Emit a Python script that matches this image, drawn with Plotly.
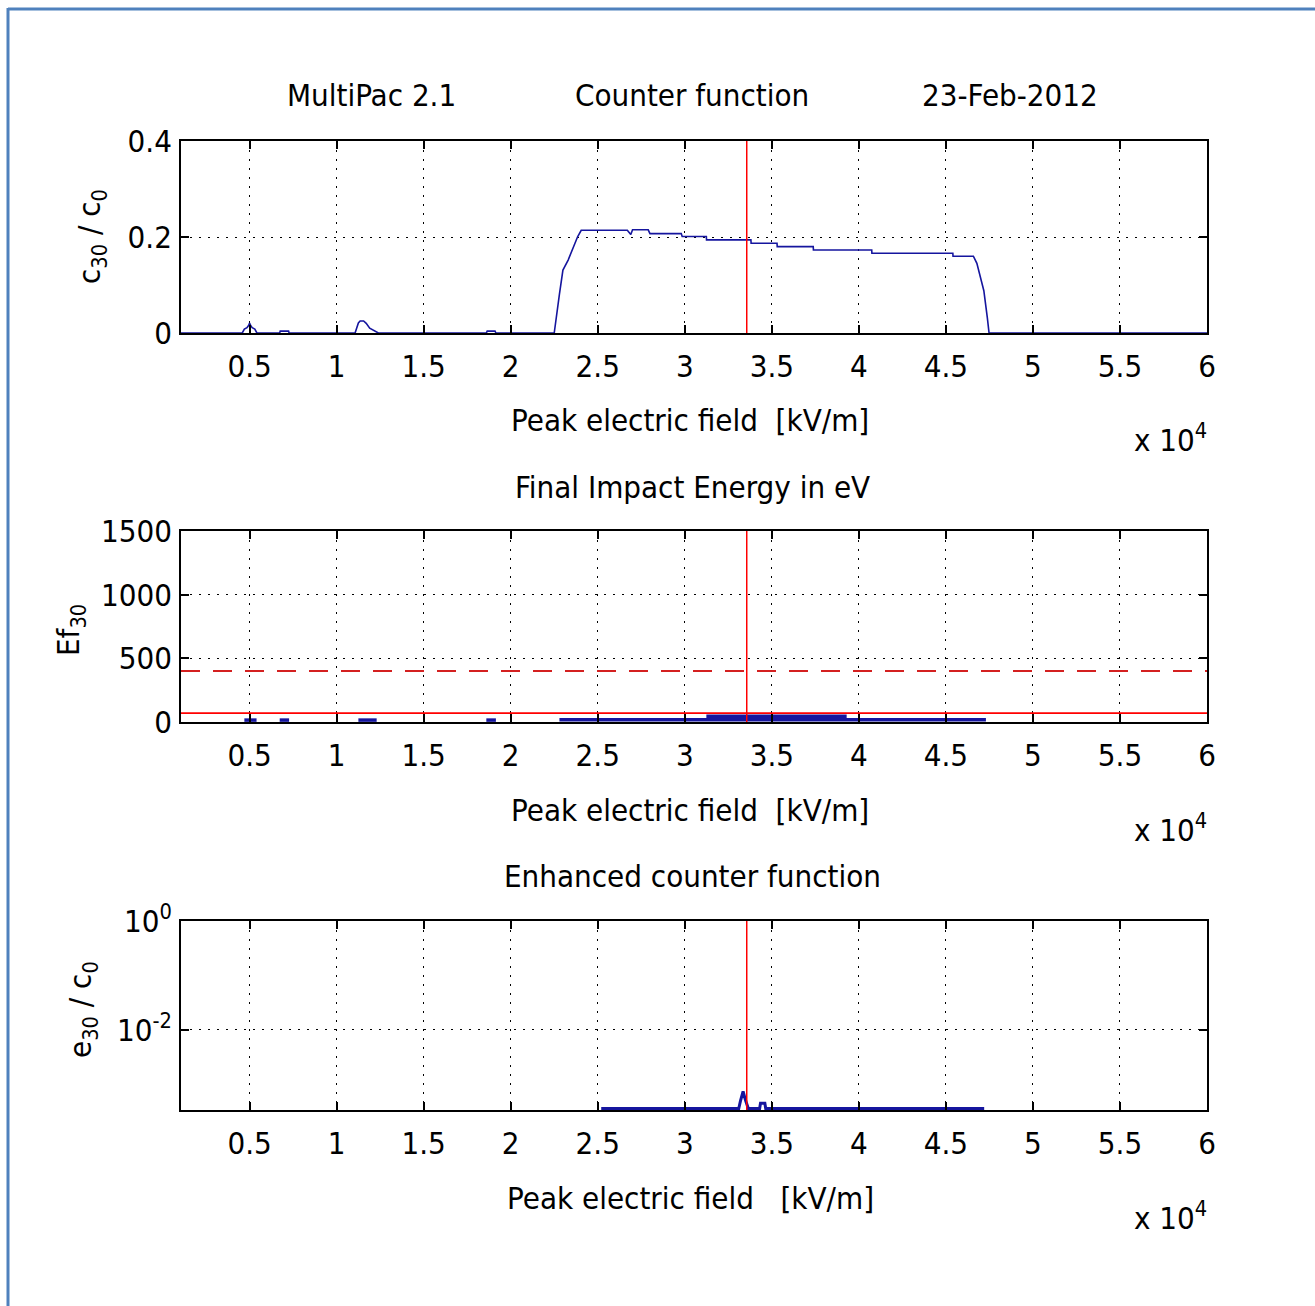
import plotly.graph_objects as go

W, H = 1315, 1306

# ---------------- data ----------------
# Peak electric field [kV/m]
x_range = [1060, 60000]
x_tickvals = [5000, 10000, 15000, 20000, 25000, 30000, 35000, 40000, 45000, 50000, 55000, 60000]
x_ticktext = ["0.5", "1", "1.5", "2", "2.5", "3", "3.5", "4", "4.5", "5", "5.5", "6"]

# counter function c30/c0
cnt_field = [1060, 4580, 4700, 4850, 4950, 5000, 5050, 5150, 5300, 5420,
             6730, 6760, 7240, 7270,
             11060, 11150, 11250, 11350, 11550, 11700, 11900, 12400,
             18600, 18650, 19100, 19150,
             22500, 22800, 23000, 23300, 23650, 23850, 24050,
             26700, 26900, 27000, 27300, 27900, 28000, 29800, 29850,
             31240, 31250, 33800, 33810, 35300, 35310, 37380, 37390,
             40740, 40750, 45400, 45410, 46580, 46780, 46980, 47180, 47380, 47480, 60000]
cnt_value = [0, 0, 0.008, 0.011, 0.016, 0.021, 0.016, 0.011, 0.008, 0,
             0, 0.004, 0.004, 0,
             0, 0.012, 0.021, 0.025, 0.025, 0.020, 0.010, 0,
             0, 0.004, 0.004, 0,
             0, 0.081, 0.131, 0.152, 0.184, 0.201, 0.214,
             0.214, 0.205, 0.215, 0.215, 0.215, 0.207, 0.207, 0.201,
             0.201, 0.194, 0.194, 0.187, 0.187, 0.180, 0.180, 0.173,
             0.173, 0.166, 0.166, 0.160, 0.160, 0.145, 0.117, 0.088, 0.032, 0, 0]

# final impact energy Ef30 [eV]
ef_field = [4700, 5400, None, 6730, 7270, None, 11250, 12300, None, 18600, 19150, None,
            22800, 47300, None, 31240, 39300]
ef_value = [15, 15, None, 15, 15, None, 15, 15, None, 15, 15, None,
            18, 18, None, 45, 45]

# enhanced counter function e30/c0
enh_field = [25200, 33100, 33200, 33350, 33500, 33650, 34300, 34350, 34600, 34650, 47200]
enh_value = [3.6e-4, 3.6e-4, 5.0e-4, 7.4e-4, 5.0e-4, 3.6e-4, 3.6e-4, 4.5e-4, 4.5e-4, 3.6e-4, 3.6e-4]

marker_field = 33560          # red vertical marker
energy_low = 70               # solid red line [eV]
energy_high = 400             # dashed red line [eV]

y1_range = [0, 0.4]
y1_ticks = [0, 0.2, 0.4]
y1_text = ["0", "0.2", "0.4"]
y2_range = [0, 1500]
y2_ticks = [0, 500, 1000, 1500]
y2_text = ["0", "500", "1000", "1500"]
y3_range_log = [-3.47, 0]
y3_ticks = [0.01, 1]
y3_text = ["10<sup>-2</sup>", "10<sup>0</sup>"]

# ---------------- styling ----------------
FONT = "DejaVu Sans Condensed, Liberation Sans Narrow, sans-serif"
FS = 31
BLUE = "#15159e"
RED = "#ff0000"

def px_x(p):
    return p / W

def px_y(p):
    return 1 - p / H

plot_left, plot_right = 181, 1207
boxes = [(141, 333), (531, 722), (921, 1110)]

fig = go.Figure()

# plot 1
fig.add_trace(go.Scatter(x=cnt_field, y=cnt_value, mode="lines",
                         line=dict(color=BLUE, width=1.6), xaxis="x", yaxis="y"))
fig.add_trace(go.Scatter(x=[marker_field, marker_field], y=y1_range, mode="lines",
                         line=dict(color=RED, width=1.5), xaxis="x", yaxis="y"))
# plot 2
fig.add_trace(go.Scatter(x=ef_field, y=ef_value, mode="lines", connectgaps=False,
                         line=dict(color=BLUE, width=3.5), xaxis="x2", yaxis="y2"))
fig.add_trace(go.Scatter(x=x_range, y=[energy_high, energy_high], mode="lines",
                         line=dict(color="#d42020", width=2, dash="19px,13px"), xaxis="x2", yaxis="y2"))
fig.add_trace(go.Scatter(x=x_range, y=[energy_low, energy_low], mode="lines",
                         line=dict(color=RED, width=1.8), xaxis="x2", yaxis="y2"))
fig.add_trace(go.Scatter(x=[marker_field, marker_field], y=y2_range, mode="lines",
                         line=dict(color=RED, width=1.5), xaxis="x2", yaxis="y2"))
# plot 3
fig.add_trace(go.Scatter(x=enh_field, y=enh_value, mode="lines",
                         line=dict(color=BLUE, width=3), xaxis="x3", yaxis="y3"))
fig.add_trace(go.Scatter(x=[marker_field, marker_field], y=[10 ** y3_range_log[0], 1], mode="lines",
                         line=dict(color=RED, width=1.5), xaxis="x3", yaxis="y3"))

axis_common = dict(showline=True, linecolor="black", linewidth=1.8, mirror="ticks",
                   ticks="inside", ticklen=8, tickwidth=1.5, tickcolor="black",
                   showgrid=True, gridcolor="black", gridwidth=1, griddash="2px,7px",
                   zeroline=False, automargin=False,
                   tickfont=dict(family=FONT, size=FS, color="black"))

layout = dict(width=W, height=H, autosize=False,
              margin=dict(l=0, r=0, t=0, b=0, pad=0, autoexpand=False),
              paper_bgcolor="white", plot_bgcolor="white", showlegend=False)

xdom = [px_x(plot_left), px_x(plot_right)]
for i, (top, bot) in enumerate(boxes):
    sfx = "" if i == 0 else str(i + 1)
    layout["xaxis" + sfx] = dict(axis_common, domain=xdom, range=x_range,
                                 tickvals=x_tickvals, ticktext=x_ticktext,
                                 ticklabelstandoff=5,
                                 anchor="y" + sfx)
    ydom = [px_y(bot), px_y(top)]
    if i == 0:
        layout["yaxis"] = dict(axis_common, domain=ydom, range=y1_range,
                               tickvals=y1_ticks, ticktext=y1_text, anchor="x",
                               ticklabelstandoff=1)
    elif i == 1:
        layout["yaxis2"] = dict(axis_common, domain=ydom, range=y2_range,
                                tickvals=y2_ticks, ticktext=y2_text, anchor="x2",
                                ticklabelstandoff=1)
    else:
        layout["yaxis3"] = dict(axis_common, domain=ydom, type="log", range=y3_range_log,
                                tickvals=y3_ticks, ticktext=y3_text, anchor="x3",
                                ticklabelstandoff=1)

fig.update_layout(**layout)

def ann(text, x, y, angle=0, size=FS, xanchor="center"):
    fig.add_annotation(text=text, x=px_x(x), y=px_y(y), xref="paper", yref="paper",
                       showarrow=False, textangle=angle, xanchor=xanchor, yanchor="middle",
                       font=dict(family=FONT, size=size, color="black"))

ann("MultiPac 2.1", 371, 95)
ann("Counter function", 692, 95)
ann("23-Feb-2012", 1010, 95)
ann("Final Impact Energy in eV", 692, 487)
ann("Enhanced counter function", 692, 876)
ann("Peak electric field  [kV/m]", 690, 420)
ann("Peak electric field  [kV/m]", 690, 810)
ann("Peak electric field   [kV/m]", 690, 1198)
for yy in (438, 828, 1216):
    ann("x 10<sup>4</sup>", 1170, yy)
ann("c<sub>30</sub> / c<sub>0</sub>", 92, 237, angle=-90)
ann("Ef<sub>30</sub>", 70, 630, angle=-90)
ann("e<sub>30</sub> / c<sub>0</sub>", 82, 1010, angle=-90)

# blue frame (left and top edges)
fig.add_shape(type="line", xref="paper", yref="paper", x0=px_x(8), x1=px_x(8), y0=0, y1=px_y(8),
              line=dict(color="#4f81bd", width=3))
fig.add_shape(type="line", xref="paper", yref="paper", x0=px_x(8), x1=1, y0=px_y(9), y1=px_y(9),
              line=dict(color="#4f81bd", width=3))

fig.write_html("out.html")
